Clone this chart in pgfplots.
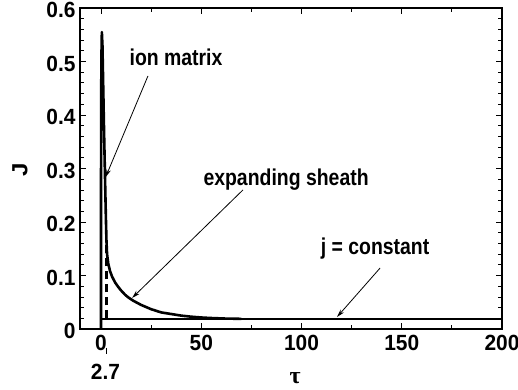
\documentclass[border=0pt]{standalone}
\usepackage{fontspec}
\setmainfont{Liberation Sans}
\newfontfamily\serifgreek{Liberation Serif}
\usepackage{pgfplots}
\pgfplotsset{compat=1.18}
\usetikzlibrary{arrows.meta}
\tikzset{ann/.style={font=\fontsize{19.5}{20}\selectfont\bfseries, yscale=1.18}}
\begin{document}
\begin{tikzpicture}
\begin{axis}[
  scale only axis, width=422bp, height=321bp,
  xmin=-10.5, xmax=200, ymin=0, ymax=0.6,
  xtick={0,50,100,150,200}, minor x tick num=1,
  ytick={0,0.1,0.2,0.3,0.4,0.5,0.6}, minor y tick num=4,
  yticklabel style={/pgf/number format/fixed, /pgf/number format/precision=1},
  /pgf/number format/assume math mode=true,
  tick align=inside,
  major tick length=6bp, minor tick length=4bp,
  ticklabel style={font=\fontsize{21}{21}\selectfont\bfseries, yscale=1.05},
  xticklabel style={yshift=-2bp},
  yticklabel style={xshift=-1bp, yshift=-2bp},
  axis line style={line width=1.4bp},
  tick style={line width=0.8bp, black},
  clip=false,
]
\coordinate (O) at (axis cs:-10.5,0);
% main curve: ion matrix spike and expanding sheath
\addplot[black, line width=2.6bp, line join=round] coordinates {
  (0,0) (0,0.30) (0.15,0.50) (0.4,0.555) (0.7,0.53) (1.1,0.45) (1.5,0.37)
  (2.0,0.28) (2.4,0.21) (2.7,0.165) (3.0,0.14) (3.6,0.122) (4.5,0.108)
  (5.5,0.098) (7,0.087) (8.5,0.079) (10,0.072) (12,0.064) (13.6,0.059)
  (16,0.053) (20,0.045) (25,0.037) (30,0.031) (35,0.028) (40,0.025)
  (45,0.023) (50,0.0215) (55,0.0205) (62,0.0195) (70,0.019)
};
% j = constant
\addplot[black, line width=2.6bp] coordinates {(0,0.019) (200,0.019)};
% dashed line at tau = 2.7
\addplot[black, line width=2.2bp, dash pattern=on 8bp off 5bp] coordinates {(2.7,0.02) (2.7,0.16)};
% annotations
\node[ann] at (axis cs:37.4,0.508) {ion matrix};
\draw[line width=0.8bp, -{Stealth[length=8bp,width=4.5bp]}] (axis cs:23.4,0.473) -- (axis cs:2.3,0.284);
\node[ann] at (axis cs:92.3,0.280) {expanding sheath};
\draw[line width=0.8bp, -{Stealth[length=8bp,width=4.5bp]}] (axis cs:70.8,0.260) -- (axis cs:15.5,0.058);
\node[ann] at (axis cs:136.7,0.150) {j = constant};
\draw[line width=0.8bp, -{Stealth[length=8bp,width=4.5bp]}] (axis cs:139.2,0.114) -- (axis cs:117.7,0.0224);
% axis labels and 2.7 marker
\node[font=\fontsize{21}{21}\selectfont\bfseries, yscale=1.05] at (axis cs:2.2,-0.080) {2.7};
\draw[line width=1.3bp] (axis cs:2.8,-0.035) -- (axis cs:2.8,-0.046);
\node[font=\fontsize{24}{24}\selectfont\serifgreek\bfseries] at (axis cs:96.8,-0.0916) {τ};
\node[font=\fontsize{22}{22}\selectfont\bfseries, rotate=90, xscale=1.1] at (axis cs:-40.4,0.297) {J};
\end{axis}
\pgfresetboundingbox
\useasboundingbox (O) ++(-80bp,-61bp) rectangle ++(518bp,390bp);
\end{tikzpicture}
\end{document}
